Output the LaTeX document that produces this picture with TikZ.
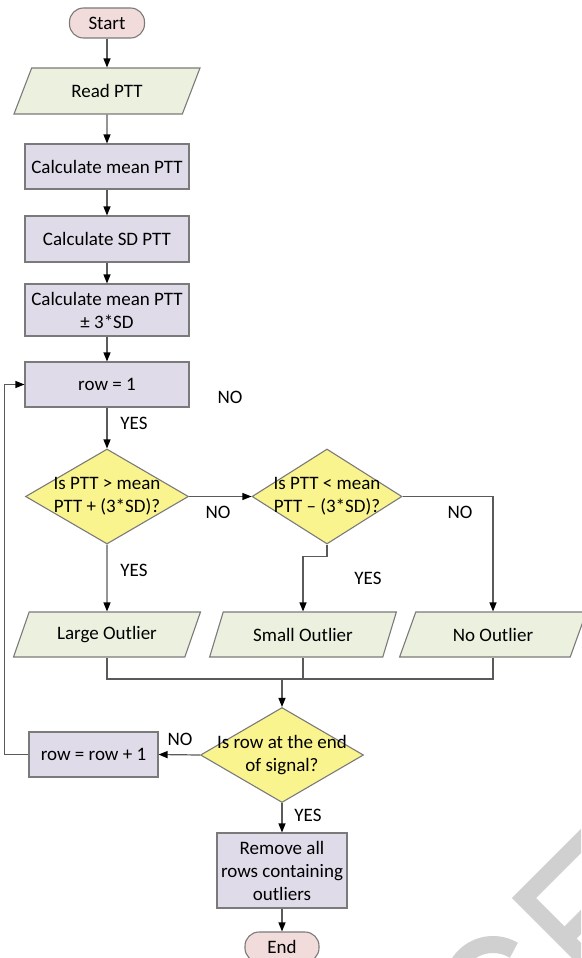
\documentclass[tikz,border=0pt]{standalone}
\usepackage{fontspec}
\setmainfont{Carlito}
\usetikzlibrary{shapes.geometric,arrows.meta}
\definecolor{termfill}{HTML}{F2DCDB}
\definecolor{iofill}{HTML}{EBF1DE}
\definecolor{procfill}{HTML}{E0DBE9}
\definecolor{decfill}{HTML}{F9F48E}
\definecolor{linegray}{HTML}{7A7A7A}
\definecolor{conngray}{HTML}{5A5A5A}
\definecolor{wmgray}{HTML}{D0D0D0}
\begin{document}
\begin{tikzpicture}[x=1pt,y=-1pt,
  every node/.style={font=\fontsize{19}{23}\selectfont, text=black},
  base/.style={draw=linegray, line width=1.1pt, inner sep=2pt, align=center},
  term/.style={base, rectangle, rounded corners=14pt, fill=termfill, minimum width=75pt, minimum height=30pt},
  proc/.style={base, rectangle, fill=procfill, minimum width=164pt, minimum height=45pt},
  io/.style={base, trapezium, trapezium left angle=63, trapezium right angle=117, trapezium stretches=true, fill=iofill, minimum width=187pt, minimum height=46pt},
  dec/.style={base, diamond, fill=decfill, minimum width=163pt, minimum height=95pt, inner sep=0pt},
  dtxt/.style={align=center, inner sep=0pt},
  line/.style={draw=conngray, line width=1.2pt},
  arr/.style={line, -{Triangle[length=9pt,width=7pt,color=black]}},
  wm/.style={draw=wmgray, line width=17pt, line cap=butt, line join=miter}
]
\useasboundingbox (0,0) rectangle (581,958);

% watermark fragment
\begin{scope}
\clip (0,0) rectangle (581,958);
\draw[wm] (600,822) -- (524,898) -- (600,974);
\draw[wm] (564.5,938.5) -- (600,903);
\draw[wm] (493,985) ++(-59:40.5) arc[start angle=-59, end angle=-200, radius=40.5];
\end{scope}

% nodes
\node[term] (start) at (107,23) {Start};
\node[io] (read) at (107,91) {Read PTT};
\node[proc] (calc1) at (107,166.5) {Calculate mean PTT};
\node[proc, minimum height=46pt] (calc2) at (107,239) {Calculate SD PTT};
\node[proc, minimum height=52pt] (calc3) at (107,310) {Calculate mean PTT\\± 3*SD};
\node[proc] (row1) at (107,384.5) {row = 1};
\node[dec] (d1) at (107,496.5) {};
\node[dtxt] (d1t) at (d1) {Is PTT > mean\\PTT + (3*SD)?};
\node[dec, minimum width=150pt] (d2) at (327,496.5) {};
\node[dtxt] (d2t) at (d2) {Is PTT < mean\\PTT – (3*SD)?};
\node[io, minimum height=45pt] (large) at (107,634.5) {Large Outlier};
\node[io, minimum height=45pt] (small) at (303,634.5) {Small Outlier};
\node[io, minimum height=45pt] (no) at (493,634.5) {No Outlier};
\node[dec] (d3) at (282,755) {};
\node[dtxt] (d3t) at (d3) {Is row at the end\\of signal?};
\node[proc, minimum width=129pt] (inc) at (93.5,754.5) {row = row + 1};
\node[proc, minimum width=130pt, minimum height=75pt] (remove) at (282,870.5) {Remove all\\rows containing\\outliers};
\node[term, minimum width=74pt] (end) at (282,947) {End};

% labels
\node (lno0) at (230,397) {NO};
\node (lyes1) at (134,423) {YES};
\node (lno1) at (218,512) {NO};
\node (lno2) at (460,512) {NO};
\node (lyes2) at (134,570) {YES};
\node (lyes3) at (368,578) {YES};
\node (lno3) at (180,739) {NO};
\node (lyes4) at (308,815) {YES};

% connectors
\draw[arr] (start) -- (read);
\draw[arr] (read) -- (calc1);
\draw[arr] (calc1) -- (calc2);
\draw[arr] (calc2) -- (calc3);
\draw[arr] (calc3) -- (row1);
\draw[arr] (row1) -- (d1);
\draw[arr] (d1.east) -- (d2.west);
\draw[arr] (d2.east) -| (no.north);
\draw[arr] (d2.south) -- ++(0,12) -| (small.north);
\draw[arr] (d1.south) -- (large.north);
\coordinate (m) at (282,679);
\draw[line] (large.south) -- (large.south |- m) -- (no.south |- m) -- (no.south);
\draw[line] (small.south) -- (small.south |- m);
\draw[arr] (m) -- (d3.north);
\draw[arr] (d3.west) -- (inc.east);
\draw[arr] (inc.west) -- ++(-24,0) |- (row1.west);
\draw[arr] (d3.south) -- (remove.north);
\draw[arr] (remove.south) -- (end.north);
\end{tikzpicture}
\end{document}
